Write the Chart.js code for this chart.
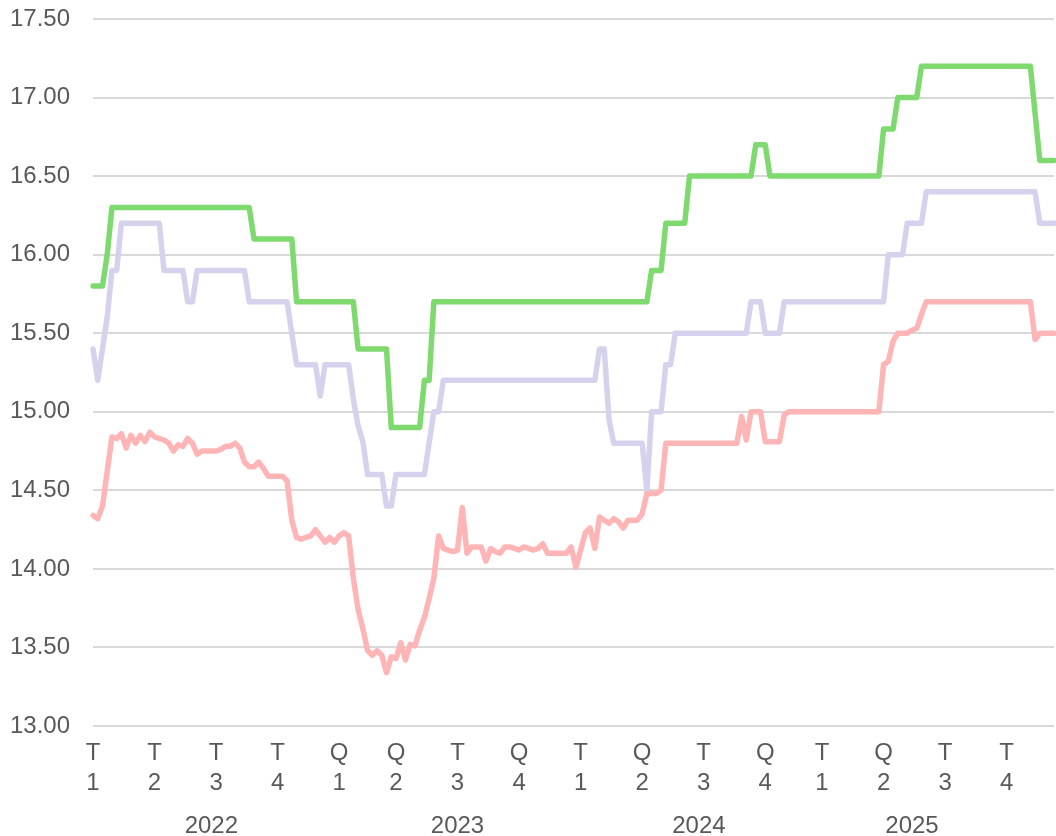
<!DOCTYPE html>
<html lang="fr">
<head>
    <meta charset="UTF-8">
    <title>Prix trimestriels</title>
    <script src="https://cdn.jsdelivr.net/npm/chart.js@4"></script>
    <style>
        html, body { margin: 0; padding: 0; background: #ffffff; overflow: hidden; }
        #chartContainer { position: relative; width: 1056px; height: 836px; }
    </style>
</head>
<body>

<div id="chartContainer">
    <canvas id="priceChart"></canvas>
</div>

<script>
// x axis: one category per week, quarter label on the first week of each quarter
const quarterTicks = [
    ['T', '1'], ['T', '2'], ['T', '3'], ['T', '4'],
    ['Q', '1'], ['Q', '2'], ['T', '3'], ['Q', '4'],
    ['T', '1'], ['Q', '2'], ['T', '3'], ['Q', '4'],
    ['T', '1'], ['Q', '2'], ['T', '3'], ['T', '4']
];
const quarterWeeks = [13, 13, 13, 13, 12, 13, 13, 13, 13, 13, 13, 12, 13, 13, 13, 11];
const years = ['2022', '2023', '2024', '2025'];
const yearTickIndex = [25, 77, 128, 173];

// weekly values, one row per quarter
const greenValues = [
    15.8, 15.8, 15.8, 16.0, 16.3, 16.3, 16.3, 16.3, 16.3, 16.3, 16.3, 16.3, 16.3,
    16.3, 16.3, 16.3, 16.3, 16.3, 16.3, 16.3, 16.3, 16.3, 16.3, 16.3, 16.3, 16.3,
    16.3, 16.3, 16.3, 16.3, 16.3, 16.3, 16.3, 16.3, 16.1, 16.1, 16.1, 16.1, 16.1,
    16.1, 16.1, 16.1, 16.1, 15.7, 15.7, 15.7, 15.7, 15.7, 15.7, 15.7, 15.7, 15.7,
    15.7, 15.7, 15.7, 15.7, 15.4, 15.4, 15.4, 15.4, 15.4, 15.4, 15.4, 14.9,
    14.9, 14.9, 14.9, 14.9, 14.9, 14.9, 15.2, 15.2, 15.7, 15.7, 15.7, 15.7, 15.7,
    15.7, 15.7, 15.7, 15.7, 15.7, 15.7, 15.7, 15.7, 15.7, 15.7, 15.7, 15.7, 15.7,
    15.7, 15.7, 15.7, 15.7, 15.7, 15.7, 15.7, 15.7, 15.7, 15.7, 15.7, 15.7, 15.7,
    15.7, 15.7, 15.7, 15.7, 15.7, 15.7, 15.7, 15.7, 15.7, 15.7, 15.7, 15.7, 15.7,
    15.7, 15.7, 15.9, 15.9, 15.9, 16.2, 16.2, 16.2, 16.2, 16.2, 16.5, 16.5, 16.5,
    16.5, 16.5, 16.5, 16.5, 16.5, 16.5, 16.5, 16.5, 16.5, 16.5, 16.5, 16.7, 16.7,
    16.7, 16.5, 16.5, 16.5, 16.5, 16.5, 16.5, 16.5, 16.5, 16.5, 16.5, 16.5,
    16.5, 16.5, 16.5, 16.5, 16.5, 16.5, 16.5, 16.5, 16.5, 16.5, 16.5, 16.5, 16.5,
    16.8, 16.8, 16.8, 17.0, 17.0, 17.0, 17.0, 17.0, 17.2, 17.2, 17.2, 17.2, 17.2,
    17.2, 17.2, 17.2, 17.2, 17.2, 17.2, 17.2, 17.2, 17.2, 17.2, 17.2, 17.2, 17.2,
    17.2, 17.2, 17.2, 17.2, 17.2, 17.2, 16.9, 16.6, 16.6, 16.6, 16.6
];

const lavenderValues = [
    15.4, 15.2, 15.4, 15.6, 15.9, 15.9, 16.2, 16.2, 16.2, 16.2, 16.2, 16.2, 16.2,
    16.2, 16.2, 15.9, 15.9, 15.9, 15.9, 15.9, 15.7, 15.7, 15.9, 15.9, 15.9, 15.9,
    15.9, 15.9, 15.9, 15.9, 15.9, 15.9, 15.9, 15.7, 15.7, 15.7, 15.7, 15.7, 15.7,
    15.7, 15.7, 15.7, 15.5, 15.3, 15.3, 15.3, 15.3, 15.3, 15.1, 15.3, 15.3, 15.3,
    15.3, 15.3, 15.3, 15.08, 14.91, 14.81, 14.6, 14.6, 14.6, 14.6, 14.4, 14.4,
    14.6, 14.6, 14.6, 14.6, 14.6, 14.6, 14.6, 14.8, 15.0, 15.0, 15.2, 15.2, 15.2,
    15.2, 15.2, 15.2, 15.2, 15.2, 15.2, 15.2, 15.2, 15.2, 15.2, 15.2, 15.2, 15.2,
    15.2, 15.2, 15.2, 15.2, 15.2, 15.2, 15.2, 15.2, 15.2, 15.2, 15.2, 15.2, 15.2,
    15.2, 15.2, 15.2, 15.2, 15.4, 15.4, 14.95, 14.8, 14.8, 14.8, 14.8, 14.8, 14.8,
    14.8, 14.5, 15.0, 15.0, 15.0, 15.3, 15.3, 15.5, 15.5, 15.5, 15.5, 15.5, 15.5,
    15.5, 15.5, 15.5, 15.5, 15.5, 15.5, 15.5, 15.5, 15.5, 15.5, 15.7, 15.7, 15.7,
    15.5, 15.5, 15.5, 15.5, 15.7, 15.7, 15.7, 15.7, 15.7, 15.7, 15.7, 15.7,
    15.7, 15.7, 15.7, 15.7, 15.7, 15.7, 15.7, 15.7, 15.7, 15.7, 15.7, 15.7, 15.7,
    15.7, 16.0, 16.0, 16.0, 16.0, 16.2, 16.2, 16.2, 16.2, 16.4, 16.4, 16.4, 16.4,
    16.4, 16.4, 16.4, 16.4, 16.4, 16.4, 16.4, 16.4, 16.4, 16.4, 16.4, 16.4, 16.4,
    16.4, 16.4, 16.4, 16.4, 16.4, 16.4, 16.4, 16.2, 16.2, 16.2, 16.2
];

const pinkValues = [
    14.34, 14.32, 14.40, 14.62, 14.84, 14.83, 14.86, 14.77, 14.85, 14.80, 14.85, 14.81, 14.87,
    14.84, 14.83, 14.82, 14.80, 14.75, 14.79, 14.78, 14.83, 14.80, 14.73, 14.75, 14.75, 14.75,
    14.75, 14.76, 14.78, 14.78, 14.80, 14.77, 14.68, 14.65, 14.65, 14.68, 14.64, 14.59, 14.59,
    14.59, 14.59, 14.56, 14.31, 14.20, 14.19, 14.20, 14.21, 14.25, 14.21, 14.17, 14.20, 14.17,
    14.21, 14.23, 14.21, 13.94, 13.74, 13.62, 13.48, 13.45, 13.48, 13.45, 13.34, 13.44,
    13.43, 13.53, 13.42, 13.52, 13.51, 13.61, 13.69, 13.81, 13.94, 14.21, 14.13, 14.12, 14.11,
    14.12, 14.39, 14.10, 14.14, 14.14, 14.14, 14.05, 14.13, 14.11, 14.10, 14.14, 14.14, 14.13,
    14.12, 14.14, 14.13, 14.12, 14.13, 14.16, 14.10, 14.10, 14.10, 14.10, 14.10, 14.14, 14.01,
    14.12, 14.23, 14.26, 14.13, 14.33, 14.31, 14.29, 14.32, 14.30, 14.26, 14.31, 14.31, 14.31,
    14.35, 14.48, 14.48, 14.48, 14.50, 14.80, 14.80, 14.80, 14.80, 14.80, 14.80, 14.80, 14.80,
    14.80, 14.80, 14.80, 14.80, 14.80, 14.80, 14.80, 14.80, 14.97, 14.82, 15.00, 15.00, 15.00,
    14.81, 14.81, 14.81, 14.81, 14.98, 15.00, 15.00, 15.00, 15.00, 15.00, 15.00, 15.00,
    15.00, 15.00, 15.00, 15.00, 15.00, 15.00, 15.00, 15.00, 15.00, 15.00, 15.00, 15.00, 15.00,
    15.30, 15.32, 15.45, 15.50, 15.50, 15.50, 15.52, 15.53, 15.62, 15.70, 15.70, 15.70, 15.70,
    15.70, 15.70, 15.70, 15.70, 15.70, 15.70, 15.70, 15.70, 15.70, 15.70, 15.70, 15.70, 15.70,
    15.70, 15.70, 15.70, 15.70, 15.70, 15.70, 15.46, 15.50, 15.50, 15.50, 15.50
];

// build the week categories and the tick lookups from the arrays above
const weekLabels = [];
const quarterTickAt = {};
quarterTicks.forEach((q, i) => {
    quarterTickAt[weekLabels.length] = q;
    for (let w = 0; w < quarterWeeks[i]; w++) {
        weekLabels.push(years[Math.floor(i / 4)] + ' ' + q.join('') + ' s' + (w + 1));
    }
});
const yearTickAt = {};
years.forEach((y, i) => { yearTickAt[yearTickIndex[i]] = y; });

const textColor = '#595959';
const fontSpec = { family: '"Liberation Sans", Arial, sans-serif', size: 24, lineHeight: 1.25 };

function makeLine(label, values, color) {
    return {
        label: label,
        data: values,
        borderColor: color,
        backgroundColor: color,
        borderWidth: 5.5,
        pointRadius: 0,
        pointHoverRadius: 0,
        tension: 0,
        fill: false,
        borderJoinStyle: 'round',
        borderCapStyle: 'round'
    };
}

// keep the plot area exactly where the layout padding puts it
function noEdgePadding(scale) {
    scale.paddingLeft = 0;
    scale.paddingRight = 0;
    scale.paddingTop = 0;
    scale.paddingBottom = 0;
}

const ctx = document.getElementById('priceChart').getContext('2d');
const chart = new Chart(ctx, {
    type: 'line',
    data: {
        labels: weekLabels,
        datasets: [
            makeLine('Bas', pinkValues, '#ffb5b5'),
            makeLine('Moyen', lavenderValues, '#d5d2ee'),
            makeLine('Haut', greenValues, '#7ed96f')
        ]
    },
    options: {
        responsive: true,
        maintainAspectRatio: false,
        animation: false,
        layout: {
            padding: { top: 19, right: 2, bottom: 0, left: 0 }
        },
        plugins: {
            legend: { display: false },
            tooltip: { enabled: false }
        },
        scales: {
            x: {
                type: 'category',
                position: 'bottom',
                weight: 0,
                grid: { display: false },
                border: { display: false },
                ticks: {
                    autoSkip: false,
                    maxRotation: 0,
                    minRotation: 0,
                    padding: 4,
                    color: textColor,
                    font: fontSpec,
                    callback: (value, index) => quarterTickAt[index] || ''
                },
                afterFit: (scale) => { scale.height = 72; noEdgePadding(scale); }
            },
            x2: {
                type: 'category',
                position: 'bottom',
                weight: 1,
                grid: { display: false },
                border: { display: false },
                ticks: {
                    autoSkip: false,
                    maxRotation: 0,
                    minRotation: 0,
                    padding: 5,
                    color: textColor,
                    font: fontSpec,
                    callback: (value, index) => yearTickAt[index] || ''
                },
                afterFit: (scale) => { scale.height = 38; noEdgePadding(scale); }
            },
            y: {
                min: 13,
                max: 17.5,
                border: { display: false },
                grid: {
                    color: '#d9d9d9',
                    lineWidth: 2,
                    drawTicks: false
                },
                ticks: {
                    stepSize: 0.5,
                    padding: 23,
                    color: textColor,
                    font: fontSpec,
                    callback: (v) => v.toFixed(2)
                },
                afterFit: (scale) => { scale.width = 93; noEdgePadding(scale); }
            }
        }
    }
});
</script>

</body>
</html>
